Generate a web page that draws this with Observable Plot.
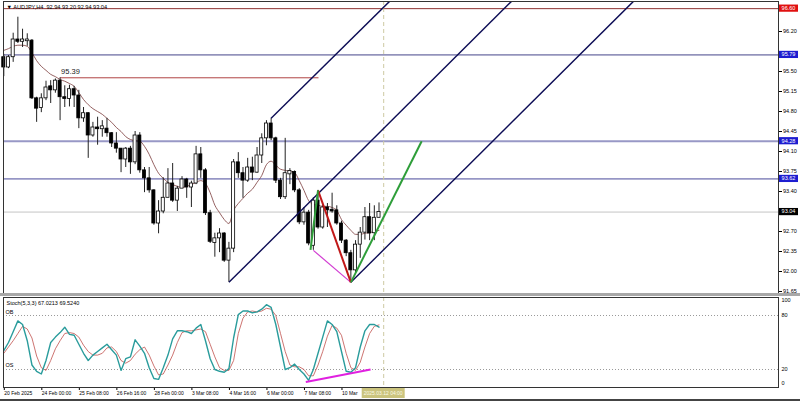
<!DOCTYPE html>
<html><head><meta charset="utf-8">
<script src="https://cdn.jsdelivr.net/npm/d3@7"></script>
<script src="https://cdn.jsdelivr.net/npm/@observablehq/plot@0.6"></script>
<style>
body{margin:0;background:#fff;}
#wrap{position:relative;width:800px;height:401px;overflow:hidden;background:#fff;font-family:"Liberation Sans",Arial,sans-serif;}
#wrap svg{position:absolute;left:0;}
.band{position:absolute;left:0;width:800px;}
</style></head><body><div id="wrap"></div>
<script>
// ---------- data ----------
const chartTitle = "▼ AUDJPY,H4  92.94 93.20 92.94 93.04";
const stochTitle = "Stoch(5,3,3) 67.0213 69.5240";
const opens = [95.75,95.57,95.75,96.06,96.02,96.03,96.04,95.03,94.86,95.03,
  95.24,95.17,95.34,95.05,95.02,95.19,95.08,94.68,94.77,94.38,
  94.52,94.49,94.50,94.42,94.24,94.15,93.96,94.15,93.91,94.38,
  93.77,93.63,93.42,92.84,93.05,93.29,93.54,93.24,93.45,93.61,
  93.47,93.54,94.05,93.77,93.02,92.50,92.58,92.665,92.19,92.40,
  93.91,93.72,93.59,93.82,93.73,94.03,94.33,94.59,94.33,93.59,
  93.30,93.70,93.74,93.42,92.86,93.03,92.45,93.24,92.77,93.12,
  93.08,93.07,92.84,92.54,92.32,92.02,92.47,92.68,92.95,92.67,
  92.94];
const closes = [95.57,95.75,96.06,96.02,96.06,96.06,95.03,94.85,95.03,95.22,
  95.17,95.34,95.05,95.02,95.19,95.08,94.68,94.77,94.38,94.52,
  94.49,94.54,94.42,94.24,94.15,93.96,94.15,93.91,94.38,93.77,
  93.63,93.42,92.84,93.05,93.29,93.54,93.24,93.45,93.61,93.47,
  93.54,94.05,93.77,93.02,92.52,92.58,92.665,92.19,92.40,93.91,
  93.72,93.59,93.82,93.73,94.03,94.33,94.59,94.33,93.59,93.30,
  93.72,93.76,93.42,92.86,93.03,92.49,93.24,92.77,93.12,93.07,
  93.05,92.84,92.54,92.32,92.02,92.47,92.68,92.95,92.665,92.94,
  93.04];
const highs = [95.80,95.78,96.17,96.45,96.24,96.16,96.06,95.05,95.11,95.33,
  95.34,95.37,95.39,95.25,95.26,95.24,95.17,94.87,94.78,94.61,
  94.70,94.64,94.68,94.43,94.43,94.15,94.17,94.19,94.45,94.43,
  93.82,93.82,93.43,93.24,93.64,93.80,93.89,93.49,93.66,93.63,
  93.58,94.19,94.17,93.80,93.07,92.67,92.75,92.68,92.51,93.96,
  94.08,93.82,93.98,94.00,94.17,94.41,94.64,94.68,94.35,93.63,
  94.33,93.80,93.76,93.45,93.12,93.07,93.29,93.42,93.16,93.19,
  93.37,93.15,92.88,92.56,92.37,92.54,92.77,93.12,93.19,93.15,
  93.20];
const lows = [95.41,95.55,95.66,95.99,95.92,95.94,95.01,94.61,94.78,94.99,
  94.94,95.12,94.64,94.87,94.88,94.87,94.50,94.61,93.98,94.35,
  94.21,94.35,94.35,94.17,94.07,93.73,93.82,93.70,93.87,93.72,
  93.38,93.37,92.81,92.66,93.01,93.29,93.21,93.05,93.45,93.28,
  93.12,93.52,93.63,92.98,92.49,92.25,92.33,92.16,91.81,92.33,
  93.63,93.28,93.56,93.59,93.72,93.89,94.20,94.29,93.54,93.26,
  93.26,93.52,93.38,92.82,92.81,92.45,92.37,92.74,92.74,92.77,
  93.02,92.81,92.49,92.26,91.81,91.98,92.23,92.55,92.54,92.54,
  92.94];
const maValues = [95.87,95.90,95.94,95.96,95.96,95.94,95.83,95.69,95.59,95.52,
  95.45,95.41,95.36,95.33,95.29,95.24,95.13,95.01,94.92,94.85,
  94.80,94.75,94.68,94.61,94.52,94.45,94.36,94.31,94.29,94.28,
  94.19,94.05,93.87,93.72,93.63,93.56,93.52,93.49,93.47,93.49,
  93.52,93.56,93.59,93.54,93.38,93.16,93.03,92.91,92.84,93.07,
  93.19,93.28,93.37,93.44,93.56,93.68,93.87,93.93,93.86,93.79,
  93.77,93.75,93.73,93.59,93.42,93.24,93.17,93.16,93.14,93.14,
  93.12,93.07,92.91,92.81,92.72,92.65,92.65,92.67,92.68,92.70,
  92.72];
const stochMain = [41,50,62,74,70,52,25,18,15,30,
  50,56,61,67,59,58,48,38,30,36,
  40,44,48,42,36,19,32,34,53,46,
  38,22,10,9,22,36,54,63,63,62,
  60,66,70,52,32,20,18,17,21,55,
  81,85,85,83,84,87,92,89,70,45,
  20,22,26,20,15,8,20,38,56,74,
  70,62,40,18,17,22,45,63,70,70,
  67.02];
const stochSignal = [38,45,52,60,68,65,55,35,22,19,
  30,43,52,60,61,60,56,47,40,36,
  36,38,44,45,40,30,27,30,37,42,
  45,36,24,14,15,25,36,50,61,63,
  63,64,65,62,48,34,22,19,19,30,
  60,77,84,85,84,85,88,87,80,60,
  40,25,23,23,20,13,13,25,40,57,
  69,66,58,38,22,19,28,45,60,68,
  69.52];
const priceTicks = [96.20,95.50,95.15,94.80,94.45,94.10,93.75,93.40,92.70,92.35,92.00,91.65];
const levelPrices = [96.60, 95.79, 94.28, 93.62, 93.04];
const resistanceSegment = {i1: 12, i2: 67.1, price: 95.39};
const channelLines = [
  {i1: 57, p1: 94.68, i2: 82.4, p2: 96.74},
  {i1: 48, p1: 91.81, i2: 108.4, p2: 96.74},
  {i1: 74, p1: 91.81, i2: 134.4, p2: 96.74}
];
const redLeg = {i1: 67, p1: 93.42, i2: 74, p2: 91.81};
const greenLegs = [{i1: 65.4, p1: 92.38, i2: 67, p2: 93.42}, {i1: 74, p1: 91.81, i2: 89.1, p2: 94.28}];
const magentaLeg = {i1: 66, p1: 92.37, i2: 74, p2: 91.81};
const stochDivergence = {i1: 64.4, v1: 6, i2: 78.2, v2: 20};
const stochLevels = [80, 20];
const stochAxisTicks = [100, 80, 20, 0];
const timeLabelIdx = [0,8,16,24,32,40,48,56,64,72];
const timeLabels = ["20 Feb 2025","24 Feb 00:00","25 Feb 08:00","26 Feb 16:00","28 Feb 00:00","3 Mar 08:00","4 Mar 16:00","6 Mar 00:00","7 Mar 08:00","10 Mar"];
const cursorIndex = 81;
const cursorLabel = "2025.03.12 04:00";

// ---------- drawing ----------
const font = "Liberation Sans, Arial, sans-serif";
const idx = d3.range(opens.length);
const xDomain = [-0.064, 165.18];
const bull = idx.filter(i => closes[i] >= opens[i]);
const bear = idx.filter(i => closes[i] < opens[i]);
const levelStyle = [
  {stroke: "#8e3232", w: 1, box: "#e01010"},
  {stroke: "#45458a", w: 1, box: "#1d1dd0"},
  {stroke: "#9898c6", w: 2, box: "#1d1dd0"},
  {stroke: "#4a4a9a", w: 1, box: "#1d1dd0"},
  {stroke: "#c4c4c4", w: 1, box: "#000000"}
];
const wrap = document.getElementById("wrap");

const main = Plot.plot({
  width: 800, height: 296, marginLeft: 3, marginRight: 22, marginTop: 1, marginBottom: 3,
  x: {domain: xDomain, axis: null},
  y: {domain: [91.615, 96.725], axis: null},
  style: {fontFamily: font, background: "transparent", overflow: "visible"},
  marks: [
    ...levelPrices.map((p, k) => Plot.ruleY([p], {stroke: levelStyle[k].stroke, strokeWidth: levelStyle[k].w})),
    Plot.ruleX([cursorIndex], {stroke: "#cdc9a2", strokeDasharray: "4,3"}),
    Plot.link([resistanceSegment], {x1: "i1", x2: "i2", y1: "price", y2: "price", stroke: "#b04444", strokeWidth: 1}),
    Plot.text([resistanceSegment], {x: "i1", y: "price", text: d => d.price.toFixed(2), textAnchor: "start", dx: 1, dy: -6, fontSize: 7.5, fill: "#222"}),
    Plot.line(idx, {x: i => i, y: i => maValues[i], stroke: "#7a3a3a", strokeWidth: 0.8, curve: "monotone-x"}),
    Plot.ruleX(idx, {x: i => i, y1: i => lows[i], y2: i => highs[i], stroke: "#222", strokeWidth: 1}),
    Plot.rect(bull, {x1: i => i - 0.33, x2: i => i + 0.33, y1: i => opens[i], y2: i => closes[i], fill: "#fff", stroke: "#000", strokeWidth: 0.8}),
    Plot.rect(bear, {x1: i => i - 0.33, x2: i => i + 0.33, y1: i => opens[i], y2: i => closes[i], fill: "#000", stroke: "#000", strokeWidth: 0.8}),
    Plot.link(channelLines, {x1: "i1", y1: "p1", x2: "i2", y2: "p2", stroke: "#0c0c55", strokeWidth: 1.4, clip: true}),
    Plot.link([magentaLeg], {x1: "i1", y1: "p1", x2: "i2", y2: "p2", stroke: "#d23cd2", strokeWidth: 1.2}),
    Plot.link([redLeg], {x1: "i1", y1: "p1", x2: "i2", y2: "p2", stroke: "#c01818", strokeWidth: 2}),
    Plot.link(greenLegs, {x1: "i1", y1: "p1", x2: "i2", y2: "p2", stroke: "#2f9e3a", strokeWidth: 2}),
    Plot.text([chartTitle], {frameAnchor: "top-left", dx: 3, dy: 4, fontSize: 5.6, fill: "#000"}),
    Plot.axisY(priceTicks, {anchor: "right", tickSize: 3, tickPadding: 1.5, fontSize: 5.5, tickFormat: d => d.toFixed(2), fill: "#000"}),
    Plot.frame({stroke: "#333", strokeWidth: 1})
  ]
});
main.style.top = "0px";
wrap.appendChild(main);
{
  const ys = main.scale("y");
  const g = d3.select(main).append("g").attr("font-family", font).attr("font-size", 5.5);
  levelPrices.forEach((p, k) => {
    const y = ys.apply(p);
    g.append("rect").attr("x", 779).attr("y", y - 3.6).attr("width", 19).attr("height", 7.2).attr("fill", levelStyle[k].box);
    g.append("text").attr("x", 788.5).attr("y", y).attr("dy", "0.34em").attr("text-anchor", "middle").attr("fill", "#fff").text(p.toFixed(2));
  });
}

const labelMap = new Map(timeLabelIdx.map((d, k) => [d, timeLabels[k]]));
const stoch = Plot.plot({
  width: 800, height: 105, marginLeft: 3, marginRight: 22, marginTop: 1, marginBottom: 14,
  x: {domain: xDomain, axis: null},
  y: {domain: [0, 100], axis: null},
  style: {fontFamily: font, background: "transparent", overflow: "visible"},
  marks: [
    Plot.ruleY(stochLevels, {stroke: "#9a9a9a", strokeDasharray: "1,2"}),
    Plot.ruleX([cursorIndex], {stroke: "#cdc9a2", strokeDasharray: "4,3"}),
    Plot.line(idx, {x: i => i, y: i => stochSignal[i], stroke: "#c0504d", strokeWidth: 0.8}),
    Plot.line(idx, {x: i => i, y: i => stochMain[i], stroke: "#2a9c9c", strokeWidth: 1.4}),
    Plot.link([stochDivergence], {x1: "i1", y1: "v1", x2: "i2", y2: "v2", stroke: "#e020e0", strokeWidth: 2}),
    Plot.text([stochTitle], {frameAnchor: "top-left", dx: 3, dy: 4, fontSize: 5.5, fill: "#000"}),
    Plot.text(["OB"], {frameAnchor: "left", y: () => stochLevels[0], dx: 2, dy: -3, textAnchor: "start", fontSize: 5.5, fill: "#000"}),
    Plot.text(["OS"], {frameAnchor: "left", y: () => stochLevels[1], dx: 2, dy: -4, textAnchor: "start", fontSize: 5.5, fill: "#000"}),
    Plot.axisY(stochAxisTicks.slice(1, 3), {anchor: "right", tickSize: 0, tickPadding: 3, fontSize: 5.5, fill: "#000"}),
    Plot.text([stochAxisTicks[0]], {frameAnchor: "right", y: d => d, text: d => String(d), dx: 3, dy: 3, textAnchor: "start", fontSize: 5.5, fill: "#000"}),
    Plot.text([stochAxisTicks[3]], {frameAnchor: "right", y: d => d, text: d => String(d), dx: 3, dy: -4, textAnchor: "start", fontSize: 5.5, fill: "#000"}),
    Plot.axisX(timeLabelIdx, {anchor: "bottom", tickSize: 3, tickPadding: 1, fontSize: 5, textAnchor: "start", dx: 0.5, tickFormat: d => labelMap.get(d), fill: "#000"}),
    Plot.frame({stroke: "#333", strokeWidth: 1})
  ]
});
stoch.style.top = "296px";
wrap.appendChild(stoch);
{
  const xs = stoch.scale("x");
  const cx = xs.apply(cursorIndex);
  const g = d3.select(stoch).append("g").attr("font-family", font).attr("font-size", 5);
  g.append("rect").attr("x", cx - 21.5).attr("y", 92).attr("width", 43).attr("height", 10).attr("fill", "#cbc47e");
  g.append("text").attr("x", cx).attr("y", 97).attr("dy", "0.34em").attr("text-anchor", "middle").attr("fill", "#fbfbe8").text(cursorLabel);
}
const sep = document.createElement("div");
sep.className = "band"; sep.style.top = "293px"; sep.style.height = "3px"; sep.style.background = "#a8a8a8";
wrap.appendChild(sep);
const bottom = document.createElement("div");
bottom.className = "band"; bottom.style.top = "399px"; bottom.style.height = "2px"; bottom.style.background = "#444";
wrap.appendChild(bottom);
</script></body></html>
